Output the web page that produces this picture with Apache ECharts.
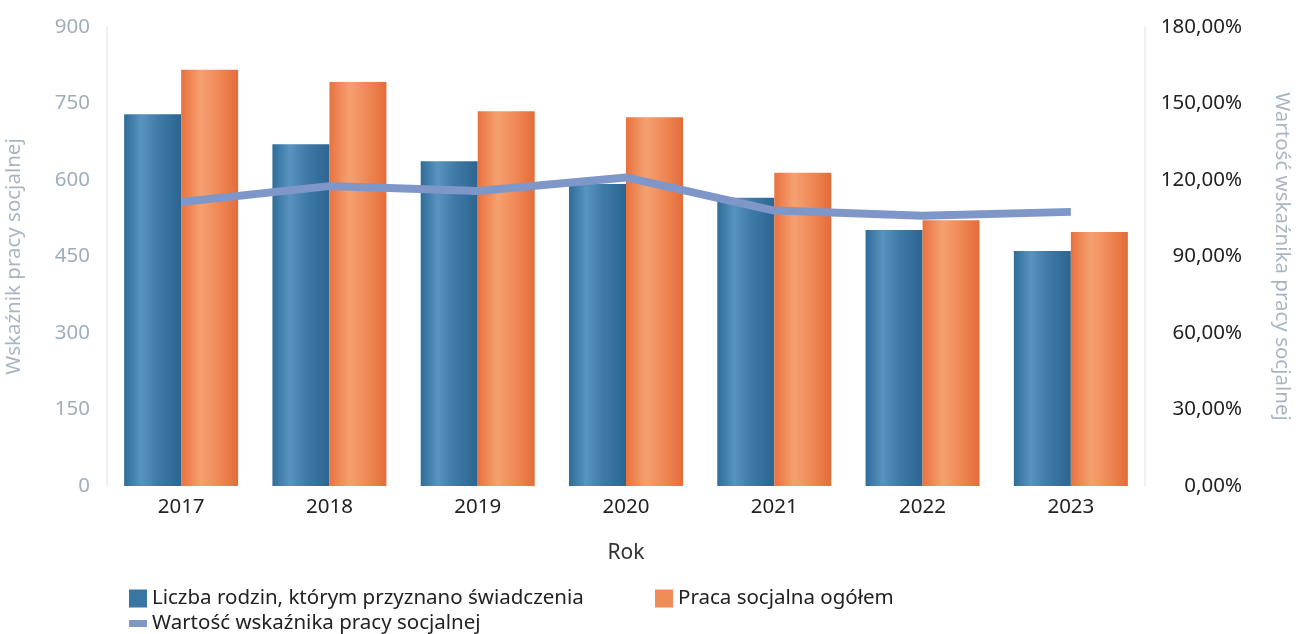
<!DOCTYPE html>
<html><head><meta charset="utf-8">
<script src="https://cdn.jsdelivr.net/npm/echarts@6/dist/echarts.min.js"></script>
<style>html,body{margin:0;padding:0;background:#fff}#c{width:1296px;height:634px}</style>
</head><body><div id="c"></div>
<script>
const categories = ['2017','2018','2019','2020','2021','2022','2023'];
const families = [729, 670, 637, 592, 565, 502, 461];
const socialWork = [816, 792, 735, 723, 614, 521, 498];
const indicator = [111.4, 117.6, 115.7, 121.0, 108.0, 106.0, 107.5];
const leftTicks = [0, 150, 300, 450, 600, 750, 900];
const rightTicks = [0, 30, 60, 90, 120, 150, 180];

const names = ['Liczba rodzin, którym przyznano świadczenia','Praca socjalna ogółem','Wartość wskaźnika pracy socjalnej'];
const FONT = 'Noto Sans';
const blueGrad = new echarts.graphic.LinearGradient(0,0,1,0,[
  {offset:0,color:'#2f6c98'},{offset:0.3,color:'#5894be'},{offset:0.6,color:'#3f7aa6'},{offset:1,color:'#2c6590'}]);
const orangeGrad = new echarts.graphic.LinearGradient(0,0,1,0,[
  {offset:0,color:'#e8723f'},{offset:0.35,color:'#f5a070'},{offset:0.65,color:'#ef8a57'},{offset:1,color:'#e36c3a'}]);

const chart = echarts.init(document.getElementById('c'));
const legendBase = {
  itemWidth: 18, itemHeight: 18, itemGap: 8,
  textStyle: {fontFamily: FONT, fontSize: 20.5, color: '#222'}
};
chart.setOption({
  animation: false,
  grid: {left: 107, right: 151, top: 27, bottom: 148, outerBoundsMode: 'none', containLabel: false},
  legend: [
    Object.assign({}, legendBase, {data: [{name: names[0], icon: 'rect', itemStyle:{color:'#3a76a2'}}], left: 124, top: 583}),
    Object.assign({}, legendBase, {data: [{name: names[1], icon: 'rect', itemStyle:{color:'#f08c58'}}], left: 650, top: 583}),
    Object.assign({}, legendBase, {data: [{name: names[2], icon: 'rect', itemStyle:{color:'#7f97c8'}}], itemHeight: 7, left: 124, top: 608})
  ],
  xAxis: {
    type: 'category', data: categories,
    name: 'Rok', nameLocation: 'middle', nameGap: 57,
    nameTextStyle: {fontFamily: FONT, fontSize: 21, color: '#333'},
    axisLine: {show: false}, axisTick: {show: false},
    axisLabel: {fontFamily: FONT, fontSize: 20.5, color: '#222', margin: 11}
  },
  yAxis: [
    {
      type: 'value', min: leftTicks[0], max: leftTicks[leftTicks.length-1], interval: 150,
      name: 'Wskaźnik pracy socjalnej', nameLocation: 'middle', nameGap: 82, nameRotate: 90,
      nameTextStyle: {fontFamily: FONT, fontSize: 20.5, color: '#a9b6c2'},
      axisLine: {show: true, lineStyle: {color: '#eef0f2', width: 2}},
      axisTick: {show: false}, splitLine: {show: false},
      axisLabel: {fontFamily: FONT, fontSize: 20.5, margin: 17,
        color: function(v){ return v === 0 ? '#222' : '#a0aebb'; }}
    },
    {
      type: 'value', min: rightTicks[0], max: rightTicks[rightTicks.length-1], interval: 30,
      name: 'Wartość wskaźnika pracy socjalnej', nameLocation: 'middle', nameGap: 126, nameRotate: -90,
      nameTextStyle: {fontFamily: FONT, fontSize: 20.5, color: '#a9b6c2'},
      axisLine: {show: true, lineStyle: {color: '#eef0f2', width: 2}},
      axisTick: {show: false}, splitLine: {show: false},
      axisLabel: {fontFamily: FONT, fontSize: 20.5, color: '#222', margin: 97, align: 'right',
        formatter: function(v){ return v.toFixed(2).replace('.', ',') + '%'; }}
    }
  ],
  series: [
    {name: names[0], type: 'bar', data: families, barWidth: 57, barGap: '0%', itemStyle: {color: blueGrad}},
    {name: names[1], type: 'bar', data: socialWork, barWidth: 57, barGap: '0%', itemStyle: {color: orangeGrad}},
    {name: names[2], type: 'line', yAxisIndex: 1, data: indicator, showSymbol: false, symbol: 'none',
      lineStyle: {color: '#7f97c8', width: 8}, itemStyle: {color: '#7f97c8'}, z: 5}
  ]
});
</script></body></html>
